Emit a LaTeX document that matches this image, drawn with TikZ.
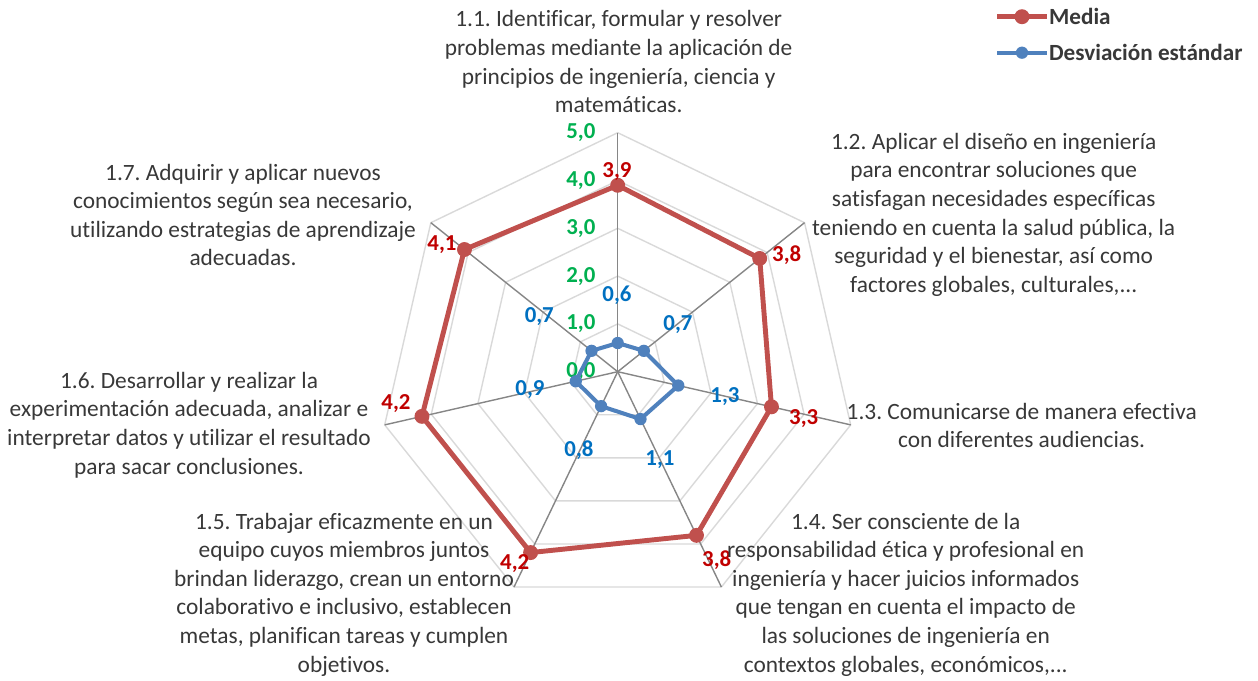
\documentclass[tikz,border=0pt]{standalone}
\usepackage{fontspec}
\setmainfont{Carlito}[RawFeature={-liga;-clig}]
\frenchspacing
\usetikzlibrary{positioning}
\definecolor{seriesred}{RGB}{192,80,77}
\definecolor{seriesblue}{RGB}{79,129,189}
\definecolor{labelred}{RGB}{192,0,0}
\definecolor{labelblue}{RGB}{0,112,192}
\definecolor{axisgreen}{RGB}{0,176,80}
\definecolor{gridgray}{RGB}{217,217,217}
\definecolor{spokegray}{RGB}{134,134,134}
\definecolor{textgray}{RGB}{56,56,56}

\begin{document}
\begin{tikzpicture}[x=0.02cm, y=0.02cm,
            catnode/.style={align=center, text=textgray, inner sep=0pt, font=\fontsize{13.3}{16.3}\selectfont},
            rednumnode/.style={text=labelred, inner sep=0pt, font=\bfseries\fontsize{13}{15}\selectfont},
            bluenumnode/.style={text=labelblue, inner sep=0pt, font=\bfseries\fontsize{13}{15}\selectfont},
            greennumnode/.style={text=axisgreen, anchor=east, inner sep=0pt, font=\bfseries\fontsize{13}{15}\selectfont},
            legendnode/.style={text=textgray, anchor=west, inner sep=0pt, font=\bfseries\fontsize{13.2}{15}\selectfont},
            redline/.style={draw=seriesred, line width=2.8pt, line join=round},
            blueline/.style={draw=seriesblue, line width=2.3pt, line join=round},
            reddot/.style={circle, fill=seriesred, inner sep=0pt, minimum size=8.5pt},
            bluedot/.style={circle, fill=seriesblue, inner sep=0pt, minimum size=7pt},
            ]
            \useasboundingbox (-617.7,-308.3) rectangle (640.3,371.7);
            % grid and spokes
            \foreach \k in {1,...,5}
                \draw[gridgray, line width=0.8pt] (90:{\k*47.8}) \foreach \i in {1,...,6} { -- ({90-\i*360/7}:{\k*47.8}) } -- cycle;
            \coordinate (O) at (0,0);
            \foreach \i in {1,...,7} {
                \coordinate (end\i) at ({90-(\i-1)*360/7}:239);
                \draw[spokegray, line width=0.8pt] (O) -- (end\i);
            }
            \foreach \k in {0,...,5}
                \node[greennumnode] (tick\k) at (-22,{\k*47.8}) {\k,0};
            % series
            \foreach \v [count=\i] in {3.9,3.8,3.3,3.8,4.2,4.2,4.1}
                \coordinate (m\i) at ({90-(\i-1)*360/7}:{\v*47.8});
            \foreach \v [count=\i] in {0.6,0.7,1.3,1.1,0.8,0.9,0.7}
                \coordinate (s\i) at ({90-(\i-1)*360/7}:{\v*47.8});
            \draw[redline] (m1) -- (m2) -- (m3) -- (m4) -- (m5) -- (m6) -- (m7) -- cycle;
            \draw[blueline] (s1) -- (s2) -- (s3) -- (s4) -- (s5) -- (s6) -- (s7) -- cycle;
            \foreach \i in {1,...,7} {
                \node[reddot] (md\i) at (m\i) {};
                \node[bluedot] (sd\i) at (s\i) {};
            }
            % data labels
            \node[rednumnode] (mv1) at (-0.7,199.7) {3,9};
            \node[rednumnode] (mv2) at (169,116.7) {3,8};
            \node[rednumnode] (mv3) at (186,-46.6) {3,3};
            \node[rednumnode] (mv4) at (99,-188) {3,8};
            \node[rednumnode] (mv5) at (-103,-191.6) {4,2};
            \node[rednumnode] (mv6) at (-221.7,-31.6) {4,2};
            \node[rednumnode] (mv7) at (-175.7,126.7) {4,1};
            \node[bluenumnode] (sv1) at (-0.7,76.7) {0,6};
            \node[bluenumnode] (sv2) at (60.3,46.7) {0,7};
            \node[bluenumnode] (sv3) at (107.3,-25.3) {1,3};
            \node[bluenumnode] (sv4) at (42.3,-88.3) {1,1};
            \node[bluenumnode] (sv5) at (-38.7,-78.3) {0,8};
            \node[bluenumnode] (sv6) at (-87.7,-18.3) {0,9};
            \node[bluenumnode] (sv7) at (-78.4,55) {0,7};
            % categories
            \node[catnode] (cat1) at (1,310) {1.1. Identificar, formular y resolver\\problemas mediante la aplicación de\\principios de ingeniería, ciencia y\\matemáticas.};
            \node[catnode] (cat2) at (376,157) {1.2. Aplicar el diseño en ingeniería\\para encontrar soluciones que\\satisfagan necesidades específicas\\teniendo en cuenta la salud pública, la\\seguridad y el bienestar, así como\\factores globales, culturales,...};
            \node[catnode] (cat3) at (404,-53.8) {1.3. Comunicarse de manera efectiva\\con diferentes audiencias.};
            \node[catnode] (cat4) at (288,-222.8) {1.4. Ser consciente de la\\responsabilidad ética y profesional en\\ingeniería y hacer juicios informados\\que tengan en cuenta el impacto de\\las soluciones de ingeniería en\\contextos globales, económicos,...};
            \node[catnode] (cat5) at (-273.7,-222.8) {1.5. Trabajar eficazmente en un\\equipo cuyos miembros juntos\\brindan liderazgo, crean un entorno\\colaborativo e inclusivo, establecen\\metas, planifican tareas y cumplen\\objetivos.};
            \node[catnode] (cat6) at (-428.7,-53.3) {1.6. Desarrollar y realizar la\\experimentación adecuada, analizar e\\interpretar datos y utilizar el resultado\\para sacar conclusiones.};
            \node[catnode] (cat7) at (-374.7,156.7) {1.7. Adquirir y aplicar nuevos\\conocimientos según sea necesario,\\utilizando estrategias de aprendizaje\\adecuadas.};
            % legend
            \coordinate (la1) at (379.3,355);
            \coordinate (la2) at (429.3,355);
            \coordinate (lb1) at (379.3,319);
            \coordinate (lb2) at (429.3,319);
            \draw[redline] (la1) -- (la2);
            \draw[blueline] (lb1) -- (lb2);
            \node[reddot] (lad) at (404.3,355) {};
            \node[bluedot] (lbd) at (404.3,319) {};
            \node[legendnode, right=1pt of la2] (legmedia) {Media};
            \node[legendnode, right=1pt of lb2] (legdesv) {Desviación estándar};
        \end{tikzpicture}
\end{document}
